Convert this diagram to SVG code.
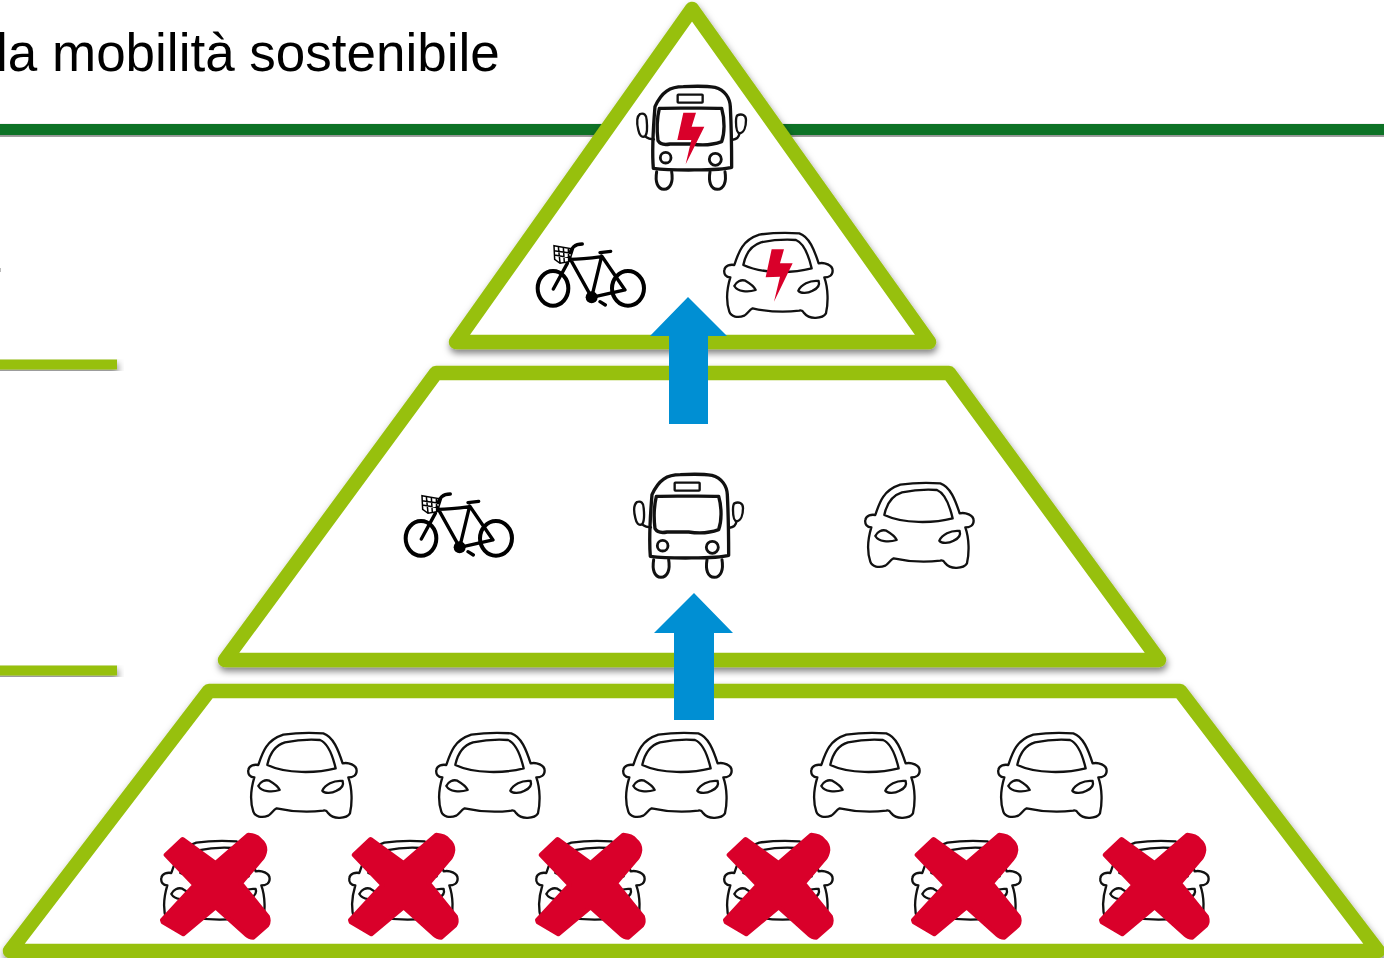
<svg xmlns="http://www.w3.org/2000/svg" xmlns:xlink="http://www.w3.org/1999/xlink" width="1384" height="958" viewBox="0 0 1384 958">
<style>
.tier{fill:#fff;stroke:#97c00e;stroke-width:14.5;stroke-linejoin:round;filter:url(#sh)}
.bar{fill:#97c00e;filter:url(#sh)}
.ink{fill:none;stroke:#111;stroke-width:7;stroke-linecap:round;stroke-linejoin:round}
.heavy{fill:none;stroke:#000;stroke-width:12;stroke-linecap:round;stroke-linejoin:round}
.med{fill:none;stroke:#000;stroke-width:10;stroke-linecap:round;stroke-linejoin:round}
.thin{fill:none;stroke:#000;stroke-width:4.500}
.red{fill:#d9002a}
.crossmark{fill:#d9002a;stroke:#d9002a;stroke-width:14;stroke-linejoin:round}
.blue{fill:#008fd3}
.title{font-family:"Liberation Sans",Arial,sans-serif;font-size:53px;fill:#000}
</style>
<defs>
<filter id="sh" x="-5%" y="-5%" width="110%" height="115%">
<feDropShadow dx="1" dy="4" stdDeviation="3.500" flood-color="#000" flood-opacity=".5"/>
</filter>
<g id="car">
<path class="ink" d="M325 135C338 95 350 60 400 44C440 38 490 38 520 40C550 50 565 90 578 130C595 126 620 135 620 152C620 168 605 172 595 172C607 205 607 250 600 280C590 296 550 300 535 280C530 272 525 270 520 272C470 278 420 274 380 265C370 270 365 280 355 287C335 295 315 290 310 275C300 245 303 205 313 172C300 172 293 162 295 150C297 135 315 133 325 135Z"/>
<path class="ink" d="M352 135C358 105 370 78 405 67C440 60 480 58 510 60C535 70 550 115 557 145C500 160 410 162 352 135Z"/>
<path class="ink" d="M325 198C330 185 345 178 358 182C372 190 385 198 389 210C365 218 335 215 325 198Z"/>
<path class="ink" d="M517 212C525 195 550 180 578 183C582 195 575 205 560 212C545 220 525 222 517 212Z"/>
</g>
<path id="cross" class="crossmark" d="M98 358L197 430L295 345Q320 347 330 360Q345 372 345 390Q343 408 333 418L272 490L353 590Q358 605 351 616L310 652Q297 652 288 643L197 561L100 642L39 606L37 600L134 495L48 405Z"/>
<g id="bus">
<path class="ink" style="stroke-width:10" d="M105 110C125 65 150 50 190 50C225 48 260 48 285 52C315 60 330 85 331 110C334 170 335 235 335 292C300 302 150 302 100 295C95 235 100 170 105 110Z"/>
<path class="ink" style="stroke-width:10" d="M118 115C180 115 250 113 305 115C315 150 314 190 305 215C270 228 240 226 215 222L150 222C135 225 120 222 114 212C110 180 111 145 118 115Z"/>
<rect class="ink" x="173" y="74" width="75" height="24" rx="2"/>
<circle class="ink" style="stroke-width:8.500" cx="137" cy="263" r="16"/>
<circle class="ink" style="stroke-width:8.500" cx="286" cy="268" r="18"/>
<path class="ink" style="stroke-width:9" d="M110 305C105 335 112 357 132 358C152 357 160 335 155 305"/>
<path class="ink" style="stroke-width:9" d="M270 305C265 335 272 358 292 358C312 358 320 335 315 305"/>
<path class="ink" d="M60 132C72 128 80 135 80 150C82 170 82 190 76 198C65 205 58 195 55 180C50 160 50 140 60 132Z"/>
<path class="ink" d="M76 200C85 207 92 208 102 208"/>
<path class="ink" d="M352 136C365 130 378 135 378 150C378 170 372 188 360 190C350 190 348 170 348 155C348 145 348 140 352 136Z"/>
<path class="ink" d="M358 190C358 200 350 208 335 210"/>
</g>
<path id="busbolt" class="red" d="M190 128L228 128L215 170L253 170L197 283L214 210L172 210Z"/>
<g id="bike">
<ellipse class="heavy" cx="99" cy="205" rx="46" ry="52"/>
<ellipse class="heavy" cx="324" cy="205" rx="48" ry="52"/>
<path class="med" d="M148 112L215 232L245 108L315 210L215 232M150 118C180 118 215 114 245 110M142 130L100 207M240 98L272 94M240 245L256 255"/>
<path class="med" d="M150 98C155 85 162 72 187 72"/>
<circle cx="215" cy="232" r="18" fill="#000"/>
<path class="thin" d="M102 77L160 87L148 125L120 130L104 118ZM115 80L120 128M130 82L133 128M145 85L146 125M102 92L155 100M103 105L151 113"/>
</g>
</defs>
<rect width="1384" height="958" fill="#fff"/>
<g id="header">
<rect x="-10" y="124" width="1404" height="11" fill="#0b7228" filter="url(#sh)"/>
<text class="title" x="-4" y="71">la mobilità sostenibile</text>
<rect x="0" y="268" width="1" height="4" fill="#bbb"/>
</g>
<g id="side-lines">
<rect class="bar" x="-10" y="359.500" width="127" height="10"/>
<rect class="bar" x="-10" y="665.500" width="127" height="10"/>
</g>
<g id="tier-bottom"><path class="tier" d="M209 691L1180 691L1378 951L10 951Z"/></g>
<g id="tier-middle"><path class="tier" d="M436 373L949 373L1159 660L225 660Z"/></g>
<g id="tier-top"><path class="tier" d="M692 9L929 342L456 342Z"/></g>
<g id="top-bus"><use xlink:href="#bus" href="#bus" transform="translate(620 70) scale(.3333)"/><use href="#busbolt" xlink:href="#busbolt" transform="translate(620 70) scale(.3333)"/></g>
<g id="top-bike"><use href="#bike" xlink:href="#bike" transform="translate(520 220) scale(.3333)"/></g>
<g id="top-car"><use href="#car" xlink:href="#car" transform="translate(626 220) scale(.3333)"/><path class="red" transform="translate(626 220) scale(.3333)" d="M437 88L474 88L462 130L500 130L444 245L462 170L419 172Z"/></g>
<g id="mid-bike"><use href="#bike" xlink:href="#bike" transform="translate(388 470) scale(.3333)"/></g>
<g id="mid-bus"><use href="#bus" xlink:href="#bus" transform="translate(617 458) scale(.3333)"/></g>
<g id="mid-car"><use href="#car" xlink:href="#car" transform="translate(767 470) scale(.3333)"/></g>
<g id="car-1"><use href="#car" xlink:href="#car" transform="translate(150 720) scale(.3333)"/></g>
<g id="car-2"><use href="#car" xlink:href="#car" transform="translate(338 720) scale(.3333)"/></g>
<g id="car-3"><use href="#car" xlink:href="#car" transform="translate(525 720) scale(.3333)"/></g>
<g id="car-4"><use href="#car" xlink:href="#car" transform="translate(713 720) scale(.3333)"/></g>
<g id="car-5"><use href="#car" xlink:href="#car" transform="translate(900 720) scale(.3333)"/></g>
<g id="xcar-1"><use href="#car" xlink:href="#car" transform="translate(63 828) scale(.3333)"/><use href="#cross" xlink:href="#cross" transform="translate(150 720) scale(.3333)"/></g>
<g id="xcar-2"><use href="#car" xlink:href="#car" transform="translate(251 828) scale(.3333)"/><use href="#cross" xlink:href="#cross" transform="translate(338 720) scale(.3333)"/></g>
<g id="xcar-3"><use href="#car" xlink:href="#car" transform="translate(438 828) scale(.3333)"/><use href="#cross" xlink:href="#cross" transform="translate(525 720) scale(.3333)"/></g>
<g id="xcar-4"><use href="#car" xlink:href="#car" transform="translate(626 828) scale(.3333)"/><use href="#cross" xlink:href="#cross" transform="translate(713 720) scale(.3333)"/></g>
<g id="xcar-5"><use href="#car" xlink:href="#car" transform="translate(814 828) scale(.3333)"/><use href="#cross" xlink:href="#cross" transform="translate(901 720) scale(.3333)"/></g>
<g id="xcar-6"><use href="#car" xlink:href="#car" transform="translate(1002 828) scale(.3333)"/><use href="#cross" xlink:href="#cross" transform="translate(1089 720) scale(.3333)"/></g>
<g id="connectors">
<path class="blue" d="M688 297L727 336L708 336L708 424L669 424L669 336L650 336Z"/>
<path class="blue" d="M694 593L733 633L714 633L714 720L674 720L674 633L654 633Z"/>
</g>
</svg>
